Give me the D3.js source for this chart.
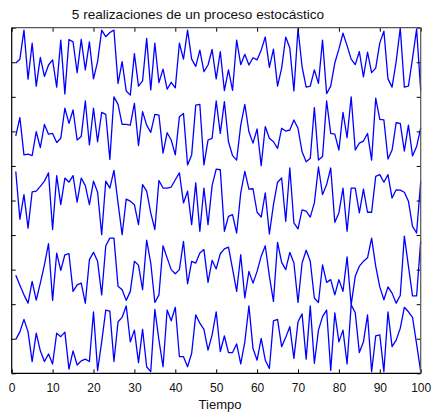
<!DOCTYPE html>
<html>
<head>
<meta charset="utf-8">
<script src="https://cdn.jsdelivr.net/npm/d3@7"></script>
<style>
	body { margin: 0; background: #fff; }
	svg { display: block; font-family: "Liberation Sans", Arial, sans-serif; }
	.tick text { font-size: 12px; fill: #111; }
	.tick line { stroke: #000; }
	.serie { fill: none; stroke: #0000ff; stroke-width: 1.3; stroke-linejoin: round; }
</style>
</head>
<body>
<svg id="chart"></svg>
<script>
// 5 realizaciones, x = 1..100 (de arriba abajo)
const tiempo = d3.range(1, 101);

const r1 = [
	8.98, 9.09, 9.93, 8.51, 9.55, 8.31, 9.14, 8.59, 8.92, 9.07,
	8.28, 9.64, 8.08, 9.66, 9.59, 8.70, 9.66, 8.78, 9.59, 8.52,
	9.02, 9.93, 9.74, 9.86, 9.93, 8.39, 9.02, 8.17, 8.05, 9.25,
	8.31, 8.46, 9.69, 8.20, 9.55, 8.41, 8.80, 8.22, 8.42, 8.26,
	9.55, 9.09, 9.93, 9.09, 8.88, 9.35, 8.73, 8.92, 9.37, 8.52,
	9.31, 8.18, 8.78, 8.19, 9.64, 8.93, 9.23, 8.92, 9.13, 9.07,
	9.35, 9.73, 8.85, 9.38, 8.31, 8.83, 9.73, 9.41, 8.17, 9.97,
	8.87, 8.28, 8.31, 8.78, 8.39, 9.64, 8.09, 8.31, 8.98, 9.38,
	9.84, 9.48, 9.09, 8.93, 9.31, 8.58, 9.29, 8.70, 8.83, 9.56,
	9.90, 8.52, 8.28, 9.02, 9.99, 8.28, 8.31, 9.11, 9.96, 8.18
];
const r2 = [
	6.87, 7.40, 6.32, 6.34, 6.30, 6.99, 6.53, 7.20, 6.92, 6.94,
	6.68, 6.80, 7.67, 7.23, 7.62, 6.75, 6.85, 7.88, 6.61, 7.67,
	6.70, 7.55, 7.49, 6.19, 8.00, 7.78, 7.20, 7.20, 7.18, 7.81,
	6.59, 7.57, 7.18, 6.97, 7.49, 7.47, 6.37, 6.96, 6.75, 6.32,
	7.42, 7.52, 6.03, 6.32, 7.76, 7.78, 6.03, 6.75, 6.80, 7.88,
	6.94, 7.86, 6.70, 6.30, 6.17, 7.18, 7.78, 6.99, 6.66, 7.07,
	6.01, 7.14, 6.80, 6.70, 6.51, 7.09, 7.01, 7.04, 7.33, 7.09,
	6.41, 6.12, 6.22, 7.69, 6.17, 6.27, 7.88, 6.94, 6.92, 6.46,
	7.55, 6.82, 8.00, 6.46, 6.66, 6.72, 6.94, 6.17, 7.96, 7.35,
	7.33, 6.20, 6.46, 7.25, 7.23, 6.43, 7.18, 6.29, 6.56, 7.10
];
const r3 = [
	5.84, 4.46, 5.17, 4.20, 5.25, 5.27, 5.41, 5.56, 5.80, 4.16,
	5.72, 4.88, 5.65, 5.53, 5.72, 4.95, 5.65, 5.43, 4.88, 5.56,
	5.24, 4.01, 5.56, 5.36, 5.87, 4.93, 4.01, 5.04, 4.98, 4.88,
	4.30, 5.46, 5.27, 4.64, 4.16, 5.58, 5.36, 5.36, 5.39, 5.60,
	5.80, 4.93, 5.27, 4.30, 5.51, 4.11, 5.36, 4.30, 5.43, 5.91,
	5.89, 4.11, 4.54, 4.59, 4.06, 5.22, 5.84, 5.33, 5.34, 4.66,
	4.52, 5.22, 4.03, 4.88, 5.53, 5.65, 4.40, 5.94, 4.35, 4.18,
	4.73, 4.69, 4.52, 4.93, 5.97, 5.17, 5.46, 5.94, 4.37, 4.64,
	5.36, 4.11, 5.36, 5.36, 4.64, 5.33, 4.66, 4.66, 5.70, 5.75,
	5.53, 5.75, 5.07, 5.31, 5.30, 5.24, 4.98, 4.25, 4.06, 5.55
];
const r4 = [
	2.84, 2.55, 2.27, 2.03, 2.66, 2.12, 2.61, 3.14, 3.75, 2.11,
	3.48, 2.98, 3.43, 3.46, 2.37, 2.56, 2.61, 2.03, 3.29, 3.50,
	3.24, 2.27, 3.69, 3.91, 3.91, 2.52, 2.42, 2.11, 2.37, 3.24,
	3.13, 2.42, 3.85, 3.19, 2.05, 2.27, 3.69, 3.34, 3.00, 2.88,
	3.00, 3.82, 2.59, 3.24, 3.19, 3.48, 3.58, 2.63, 3.27, 3.02,
	3.46, 3.60, 3.65, 3.02, 2.37, 3.43, 2.18, 2.95, 2.61, 2.95,
	3.39, 3.69, 2.81, 2.08, 3.79, 3.21, 3.00, 3.50, 3.19, 2.05,
	3.19, 3.56, 3.24, 2.18, 2.05, 3.14, 2.63, 2.71, 2.27, 2.71,
	2.37, 3.37, 1.98, 2.81, 3.10, 3.24, 3.34, 3.91, 3.10, 2.50,
	2.13, 2.50, 2.32, 2.03, 2.25, 3.97, 3.10, 2.24, 2.24, 3.83
];
const r5 = [
	0.98, 1.20, 1.56, 1.20, 0.34, 1.16, 0.65, 0.34, 0.56, 0.27,
	1.16, 1.06, 1.19, 0.12, 0.65, 0.24, 0.36, 0.41, 0.34, 1.78,
	0.08, 0.91, 1.83, 1.80, 0.34, 1.49, 1.62, 1.95, 0.91, 1.25,
	0.31, 1.27, 0.19, 0.05, 1.85, 0.96, 0.19, 1.83, 1.52, 1.91,
	0.48, 0.48, 0.19, 0.58, 1.69, 1.45, 1.27, 0.67, 1.11, 1.78,
	0.63, 1.08, 0.60, 0.60, 0.85, 0.27, 0.91, 1.95, 0.72, 0.38,
	1.01, 0.38, 0.14, 1.52, 1.56, 0.77, 1.04, 1.35, 0.43, 1.49,
	1.72, 0.41, 1.95, 0.29, 1.25, 1.64, 1.83, 0.08, 1.75, 0.91,
	1.25, 0.27, 1.98, 1.75, 0.60, 0.91, 1.69, 0.05, 1.08, 1.11,
	0.05, 1.78, 0.77, 0.96, 1.30, 1.91, 1.78, 1.62, 0.85, 0.05
];
const series = [r1, r2, r3, r4, r5];

const xTicks = d3.range(0, 101, 10);
const yTicks = d3.range(0, 11, 1);

const titulo = "5 realizaciones de un proceso estocástico";
const etiquetaX = "Tiempo";

const width = 434;
const height = 416;
const margin = { top: 27.7, right: 13.3, bottom: 42.7, left: 11.7 };

const svg = d3.select("#chart")
	.attr("width", width)
	.attr("height", height);

svg.append("rect")
	.attr("width", width)
	.attr("height", height)
	.attr("fill", "#fff");

const x = d3.scaleLinear()
	.domain([0, 100])
	.range([margin.left, width - margin.right]);
const y = d3.scaleLinear()
	.domain([0, 10])
	.range([height - margin.bottom, margin.top]);

const line = d3.line()
	.x((d, i) => x(tiempo[i]))
	.y((d) => y(d));

// lines first, frame and ticks on top
svg.append("g")
	.selectAll("path")
	.data(series)
	.enter()
	.append("path")
	.attr("class", "serie")
	.attr("d", line);

const tick = 4;

svg.append("g")
	.attr("transform", `translate(0, ${y(0)})`)
	.call(d3.axisBottom(x).tickValues(xTicks).tickSizeInner(-tick).tickSizeOuter(0).tickPadding(10))
	.call((g) => g.select(".domain").remove());

svg.append("g")
	.attr("transform", `translate(0, ${y(10)})`)
	.call(d3.axisTop(x).tickValues(xTicks).tickFormat("").tickSizeInner(-tick).tickSizeOuter(0))
	.call((g) => g.select(".domain").remove());

svg.append("g")
	.attr("transform", `translate(${x(0)}, 0)`)
	.call(d3.axisLeft(y).tickValues(yTicks).tickFormat("").tickSizeInner(-tick).tickSizeOuter(0))
	.call((g) => g.select(".domain").remove());

svg.append("g")
	.attr("transform", `translate(${x(100)}, 0)`)
	.call(d3.axisRight(y).tickValues(yTicks).tickFormat("").tickSizeInner(-tick).tickSizeOuter(0))
	.call((g) => g.select(".domain").remove());

svg.selectAll(".tick text").attr("font-family", null).attr("font-size", null);

// box
svg.append("line")
	.attr("x1", x(0)).attr("x2", x(100))
	.attr("y1", y(10)).attr("y2", y(10))
	.attr("stroke", "#555").attr("stroke-width", 1.2);
svg.append("line")
	.attr("x1", x(100)).attr("x2", x(100))
	.attr("y1", y(10)).attr("y2", y(0))
	.attr("stroke", "#555").attr("stroke-width", 1.2);
svg.append("line")
	.attr("x1", x(0)).attr("x2", x(0))
	.attr("y1", y(10)).attr("y2", y(0))
	.attr("stroke", "#000").attr("stroke-width", 1.2);
svg.append("line")
	.attr("x1", x(0)).attr("x2", x(100))
	.attr("y1", y(0)).attr("y2", y(0))
	.attr("stroke", "#000").attr("stroke-width", 1.2);

svg.append("text")
	.attr("x", 198)
	.attr("y", 19)
	.attr("text-anchor", "middle")
	.attr("font-size", 13.6)
	.attr("fill", "#111")
	.text(titulo);

svg.append("text")
	.attr("x", 220)
	.attr("y", 408.5)
	.attr("text-anchor", "middle")
	.attr("font-size", 13)
	.attr("fill", "#111")
	.text(etiquetaX);
</script>
</body>
</html>
